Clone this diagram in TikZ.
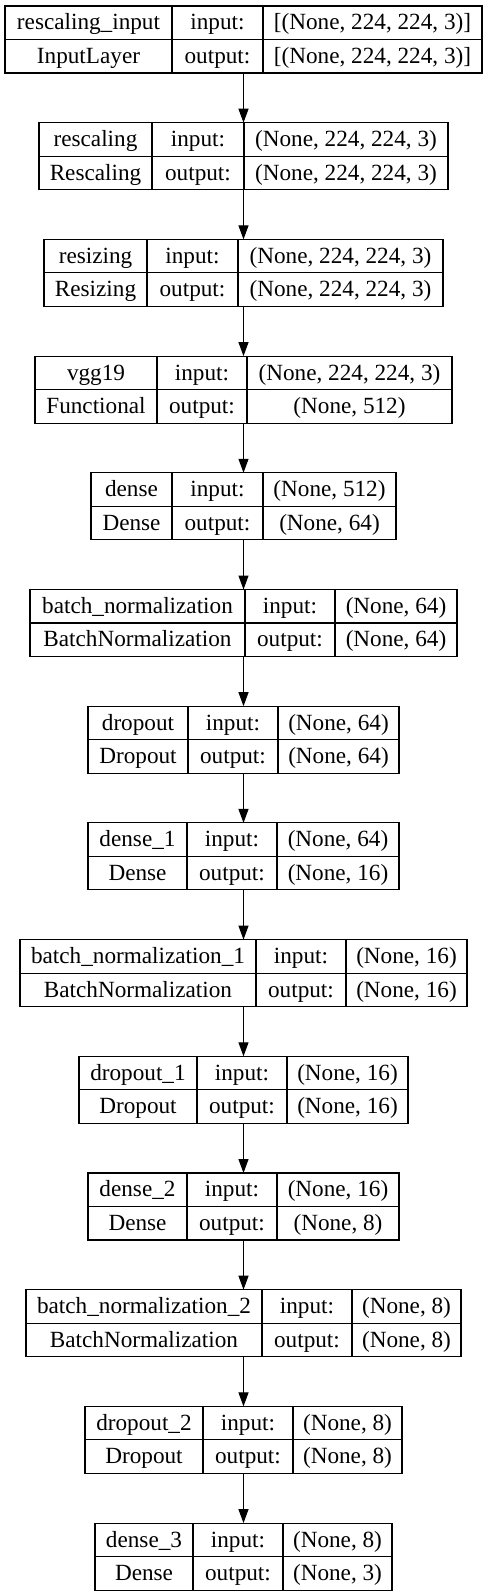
\documentclass[tikz,border=0pt]{standalone}
\usepackage{fontspec}
\setmainfont{Liberation Serif}
\usetikzlibrary{arrows.meta}
\newcommand{\mylayer}[9]{%
 \pgfmathsetmacro\Lyt{6+116.7*#2}%
 \pgfmathsetmacro\Lym{\Lyt+33.5}%
 \pgfmathsetmacro\Lyb{\Lyt+67}%
 \pgfmathsetmacro\Lxr{487-#3}%
 \pgfmathsetmacro\Lbw{487-2*#3}%
 \pgfmathsetmacro\Lca{(#3+#4)/2}%
 \pgfmathsetmacro\Lcb{(#4+#5)/2}%
 \pgfmathsetmacro\Lcc{(#5+\Lxr)/2}%
 \pgfmathsetmacro\Lba{\Lyt+16.75+7.2}%
 \pgfmathsetmacro\Lbb{\Lyt+50.25+7.2}%
 \node[box, minimum width=\Lbw pt, minimum height=67pt] (#1) at (243.5,\Lym) {};
 \draw[cell] (#3,\Lym) -- (\Lxr,\Lym) (#4,\Lyt) -- (#4,\Lyb) (#5,\Lyt) -- (#5,\Lyb);
 \node[lbl] (#1-n) at (\Lca,\Lba) {#6};
 \node[lbl] (#1-c) at (\Lca,\Lbb) {#7};
 \node[lbl] (#1-i) at (\Lcb,\Lba) {input:};
 \node[lbl] (#1-o) at (\Lcb,\Lbb) {output:};
 \node[lbl] (#1-s) at (\Lcc,\Lba) {#8};
 \node[lbl] (#1-t) at (\Lcc,\Lbb) {#9};
}
\begin{document}
\begin{tikzpicture}[x=1pt,y=-1pt,
  box/.style={draw=black, line width=1.1pt, inner sep=0pt, outer sep=0pt, fill=none},
  cell/.style={draw=black, line width=1.1pt},
  lbl/.style={anchor=base, inner sep=0pt, font=\fontsize{23.2}{28}\selectfont},
  arr/.style={draw=black, line width=1.1pt, -{Triangle[length=14pt,width=10pt]}}]
\fill[white] (0,0) rectangle (488,1596);
\useasboundingbox (0,0) rectangle (488,1596);
\mylayer{L0}{0}{5}{172}{263}{rescaling\_input}{InputLayer}{[(None, 224, 224, 3)]}{[(None, 224, 224, 3)]}
\mylayer{L1}{1}{39}{152}{244}{rescaling}{Rescaling}{(None, 224, 224, 3)}{(None, 224, 224, 3)}
\mylayer{L2}{2}{44}{147}{238}{resizing}{Resizing}{(None, 224, 224, 3)}{(None, 224, 224, 3)}
\mylayer{L3}{3}{35}{157}{247}{vgg19}{Functional}{(None, 224, 224, 3)}{(None, 512)}
\mylayer{L4}{4}{91}{172}{263}{dense}{Dense}{(None, 512)}{(None, 64)}
\mylayer{L5}{5}{30}{245}{335}{batch\_normalization}{BatchNormalization}{(None, 64)}{(None, 64)}
\mylayer{L6}{6}{88}{188}{278}{dropout}{Dropout}{(None, 64)}{(None, 64)}
\mylayer{L7}{7}{88}{187}{277}{dense\_1}{Dense}{(None, 64)}{(None, 16)}
\mylayer{L8}{8}{20}{256}{346}{batch\_normalization\_1}{BatchNormalization}{(None, 16)}{(None, 16)}
\mylayer{L9}{9}{79}{197}{287}{dropout\_1}{Dropout}{(None, 16)}{(None, 16)}
\mylayer{L10}{10}{88}{187}{277}{dense\_2}{Dense}{(None, 16)}{(None, 8)}
\mylayer{L11}{11}{26}{262}{352}{batch\_normalization\_2}{BatchNormalization}{(None, 8)}{(None, 8)}
\mylayer{L12}{12}{85}{203}{293}{dropout\_2}{Dropout}{(None, 8)}{(None, 8)}
\mylayer{L13}{13}{95}{193}{283}{dense\_3}{Dense}{(None, 8)}{(None, 3)}
\foreach \a/\b in {L0/L1,L1/L2,L2/L3,L3/L4,L4/L5,L5/L6,L6/L7,L7/L8,L8/L9,L9/L10,L10/L11,L11/L12,L12/L13}
  \draw[arr] (\a.south) -- (\b.north);
\end{tikzpicture}
\end{document}
